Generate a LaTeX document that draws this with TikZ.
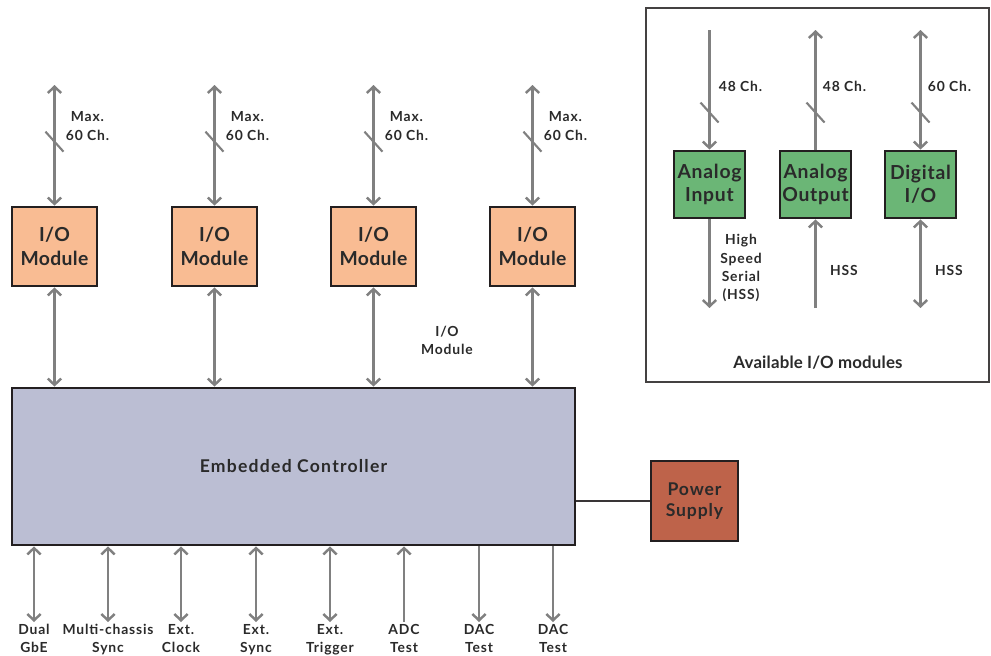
\documentclass[tikz,border=0pt]{standalone}
\usepackage{fontspec}
\setmainfont{Lato}
\usetikzlibrary{arrows.meta, positioning, calc}
\definecolor{modorange}{HTML}{F9BC93}
\definecolor{modgreen}{HTML}{6BB676}
\definecolor{ctrlfill}{HTML}{BBBED3}
\definecolor{psred}{HTML}{BE634A}
\definecolor{siggray}{HTML}{808080}
\definecolor{darkline}{HTML}{231F20}
\definecolor{txtgray}{HTML}{2A2A2A}
\tikzset{
  iobox/.style={draw=darkline, line width=1.6pt, fill=modorange, minimum width=1.7cm, minimum height=1.58cm,
                text=txtgray, font=\fontsize{11}{13.5}\selectfont\bfseries\addfontfeatures{LetterSpace=2}, align=center},
  greenbox/.style={draw=darkline, line width=1.6pt, fill=modgreen, minimum width=1.42cm, minimum height=1.34cm,
                   text=txtgray, font=\fontsize{11}{13}\selectfont\bfseries\addfontfeatures{LetterSpace=4}, align=center, inner sep=0pt},
  ctrlbox/.style={draw=darkline, line width=1.6pt, fill=ctrlfill, minimum width=11.26cm, minimum height=3.14cm,
                  text=txtgray, font=\fontsize{10}{12}\selectfont\bfseries\addfontfeatures{LetterSpace=7}},
  psbox/.style={draw=darkline, line width=1.6pt, fill=psred, minimum width=1.74cm, minimum height=1.6cm,
                text=txtgray, font=\fontsize{10}{12}\selectfont\bfseries\addfontfeatures{LetterSpace=5}, align=center},
  panelbox/.style={draw=darkline!85, line width=0.8pt, minimum width=6.86cm, minimum height=7.48cm},
  sig/.style={draw=siggray, line width=1.4pt},
  chslash/.style={draw=siggray, line width=1.2pt},
  psline/.style={draw=darkline!90, line width=1.1pt},
  lbl/.style={text=txtgray, font=\fontsize{7.9}{10.3}\selectfont\bfseries\addfontfeatures{LetterSpace=6}, align=center, inner sep=1pt},
  titlelbl/.style={text=txtgray, font=\fontsize{9.6}{11}\selectfont\bfseries\addfontfeatures{LetterSpace=1}},
}

\begin{document}
\begin{tikzpicture}[x=0.02cm, y=-0.02cm, >={Straight Barb[length=3.6pt,width=7.6pt]}]
  \useasboundingbox (0,0) rectangle (991,656);

  % I/O modules
  \node[iobox] (mod1) at (54.5, 246.5) {I/O\\Module};
  \node[iobox] (mod2) at (214.5, 246.5) {I/O\\Module};
  \node[iobox] (mod3) at (373.5, 246.5) {I/O\\Module};
  \node[iobox] (mod4) at (532.5, 246.5) {I/O\\Module};

  % Embedded controller and power supply
  \node[ctrlbox] (ctrl) at (293.5, 466.5) {Embedded Controller};
  \node[psbox] (ps) at (694.5, 501) {Power\\Supply};
  \draw[psline] (ps.west) -- (ps.west -| ctrl.east);

  % Channel arrows above the modules
  \coordinate (top1) at (54.5, 85);
  \coordinate (top2) at (214.5, 85);
  \coordinate (top3) at (373.5, 85);
  \coordinate (top4) at (532.5, 85);
  \draw[sig, <->] (top1) -- coordinate[pos=0.47] (cut1) (mod1.north);
  \draw[sig, <->] (top2) -- coordinate[pos=0.47] (cut2) (mod2.north);
  \draw[sig, <->] (top3) -- coordinate[pos=0.47] (cut3) (mod3.north);
  \draw[sig, <->] (top4) -- coordinate[pos=0.47] (cut4) (mod4.north);
  \draw[chslash] ($(cut1)+(-9,-10)$) -- ($(cut1)+(9,10)$);
  \draw[chslash] ($(cut2)+(-9,-10)$) -- ($(cut2)+(9,10)$);
  \draw[chslash] ($(cut3)+(-9,-10)$) -- ($(cut3)+(9,10)$);
  \draw[chslash] ($(cut4)+(-9,-10)$) -- ($(cut4)+(9,10)$);
  \node[lbl] (max1) at (87.5, 126) {Max.\\60 Ch.};
  \node[lbl] (max2) at (247.5, 126) {Max.\\60 Ch.};
  \node[lbl] (max3) at (406.5, 126) {Max.\\60 Ch.};
  \node[lbl] (max4) at (565.5, 126) {Max.\\60 Ch.};

  % Modules <-> controller
  \draw[sig, <->] (mod1.south) -- (mod1.south |- ctrl.north);
  \draw[sig, <->] (mod2.south) -- (mod2.south |- ctrl.north);
  \draw[sig, <->] (mod3.south) -- (mod3.south |- ctrl.north);
  \draw[sig, <->] (mod4.south) -- (mod4.south |- ctrl.north);
  \node[lbl] (modlbl) at (447, 340) {I/O\\Module};

  % Controller ports
  \node[lbl, anchor=north] (gbe) at (34, 622) {Dual\\GbE};
  \node[lbl, anchor=north] (mcs) at (108, 622) {Multi-chassis\\Sync};
  \node[lbl, anchor=north] (clk) at (181, 622) {Ext.\\Clock};
  \node[lbl, anchor=north] (esync) at (256, 622) {Ext.\\Sync};
  \node[lbl, anchor=north] (trig) at (330, 622) {Ext.\\Trigger};
  \node[lbl, anchor=north] (adc) at (404, 622) {ADC\\Test};
  \node[lbl, anchor=north] (daca) at (479, 622) {DAC\\Test};
  \node[lbl, anchor=north] (dacb) at (553, 622) {DAC\\Test};
  \draw[sig, <->] (gbe.north |- ctrl.south) -- (gbe.north);
  \draw[sig, <->] (mcs.north |- ctrl.south) -- (mcs.north);
  \draw[sig, <->] (clk.north |- ctrl.south) -- (clk.north);
  \draw[sig, <->] (esync.north |- ctrl.south) -- (esync.north);
  \draw[sig, <->] (trig.north |- ctrl.south) -- (trig.north);
  \draw[sig, <-] (adc.north |- ctrl.south) -- (adc.north);
  \draw[sig, ->] (daca.north |- ctrl.south) -- (daca.north);
  \draw[sig, ->] (dacb.north |- ctrl.south) -- (dacb.north);

  % Available I/O modules (legend panel)
  \node[panelbox] (panel) at (817.5, 195) {};
  \node[titlelbl] (paneltitle) at (818, 363) {Available I/O modules};
  \node[greenbox] (ain) at (709.5, 184.5) {Analog\\Input};
  \node[greenbox] (aout) at (815.5, 184.5) {Analog\\Output};
  \node[greenbox] (dio) at (920.5, 184.5) {Digital\\I/O};

  \coordinate (aintop) at (709.5, 30);
  \coordinate (aouttop) at (815.5, 30);
  \coordinate (diotop) at (920.5, 30);
  \coordinate (ainbot) at (709.5, 308);
  \coordinate (aoutbot) at (815.5, 308);
  \coordinate (diobot) at (920.5, 308);
  \draw[sig, ->] (aintop) -- coordinate[pos=0.69] (cut5) (ain.north);
  \draw[sig, <-] (aouttop) -- coordinate[pos=0.69] (cut6) (aout.north);
  \draw[sig, <->] (diotop) -- coordinate[pos=0.69] (cut7) (dio.north);
  \draw[chslash] ($(cut5)+(-9,-10)$) -- ($(cut5)+(9,10)$);
  \draw[chslash] ($(cut6)+(-9,-10)$) -- ($(cut6)+(9,10)$);
  \draw[chslash] ($(cut7)+(-9,-10)$) -- ($(cut7)+(9,10)$);
  \node[lbl] (ch1) at (740.5, 86) {48 Ch.};
  \node[lbl] (ch2) at (844.5, 86) {48 Ch.};
  \node[lbl] (ch3) at (949.5, 86) {60 Ch.};

  \draw[sig, ->] (ain.south) -- (ainbot);
  \draw[sig, ->] (aoutbot) -- (aout.south);
  \draw[sig, <->] (dio.south) -- (diobot);
  \node[lbl] (hss1) at (741, 268) {High\\Speed\\Serial\\(HSS)};
  \node[lbl] (hss2) at (844, 270) {HSS};
  \node[lbl] (hss3) at (949, 270) {HSS};
\end{tikzpicture}
\end{document}
